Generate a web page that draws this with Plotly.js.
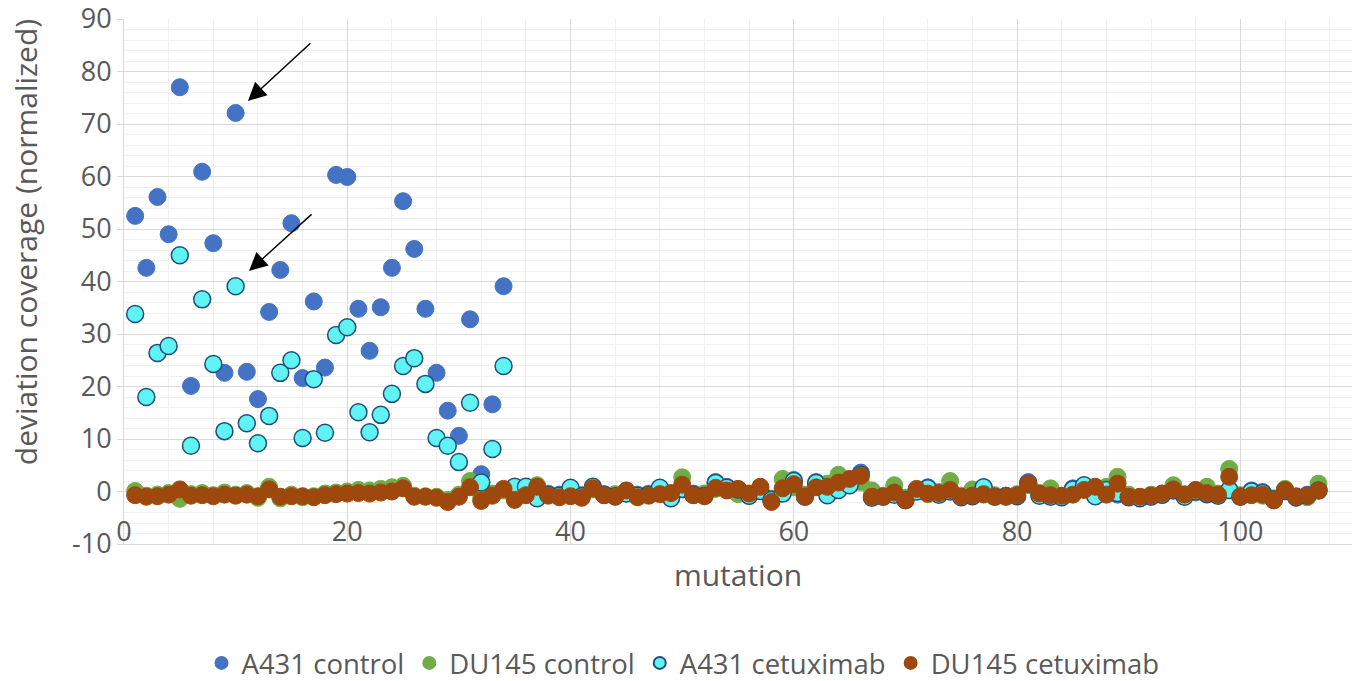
<!DOCTYPE html>
<html>
<head>
<meta charset="utf-8">
<script src="https://cdn.plot.ly/plotly-3.0.1.min.js"></script>
<style>html,body{margin:0;padding:0;background:#fff;}#chart{width:1366px;height:681px;}</style>
</head>
<body>
<div id="chart"></div>
<script>
// mutation index 1..107
const mutation = Array.from({length: 107}, (_, i) => i + 1);

const seriesNames = ["A431 control", "DU145 control", "A431 cetuximab", "DU145 cetuximab"];

const a431Control = [
  52.5, 42.6, 56.1, 49.0, 77.0, 20.1, 60.9, 47.3, 22.6, 72.1,
  22.8, 17.6, 34.2, 42.2, 51.1, 21.6, 36.2, 23.6, 60.3, 59.9,
  34.8, 26.8, 35.1, 42.6, 55.3, 46.2, 34.8, 22.6, 15.4, 10.6,
  32.8, 3.3, 16.6, 39.1, 0.5, 0.6, -0.8, -0.5, -0.6, 0.3,
  -0.7, 0.6, -0.5, -0.8, -0.3, -0.6, -0.7, 0.3, -1.2, 0.8,
  -0.4, -0.6, 1.8, 0.9, 0.2, -0.6, 0.3, -1.4, -0.2, 2.2,
  -0.8, 1.8, 0.0, 0.6, 1.5, 3.6, -1.0, -0.9, -0.4, -1.4,
  0.2, 0.8, -0.4, 0.2, -1.0, -0.7, 0.6, -0.9, -0.8, -0.7,
  1.8, -0.6, -0.8, -1.0, 0.6, 1.0, -0.7, 0.5, -0.6, -1.0,
  -1.2, -0.9, -0.4, 0.4, -0.8, 0.2, -0.3, -0.6, 0.4, -0.8,
  0.2, -0.1, -1.4, 0.3, -0.9, -0.6, 0.4
];

const du145Control = [
  0.1, -0.8, -0.6, -0.3, -1.4, -0.5, -0.3, -0.7, -0.2, -0.6,
  -0.3, -1.2, 0.9, -1.3, -0.6, -1.1, -0.9, -0.4, -0.2, 0.0,
  0.3, 0.2, 0.5, 0.8, 1.1, -0.8, -0.9, -1.0, -1.6, -0.6,
  2.0, -1.2, -0.4, 0.2, -1.2, -0.5, 1.2, -0.4, -0.9, 0.2,
  -1.0, 0.4, -0.7, -0.5, 0.1, -0.9, -0.4, 0.6, -0.8, 2.7,
  -0.7, -0.4, 0.5, 0.3, -0.5, -0.9, 0.8, -1.5, 2.4, 0.8,
  -0.6, 1.2, 1.5, 3.2, 2.0, 1.8, 0.2, -0.8, 1.2, -1.2,
  0.3, -0.5, -0.1, 2.0, -0.8, 0.4, -0.6, -0.7, -0.8, -0.5,
  1.2, -0.3, 0.6, -0.9, -0.4, 0.5, -0.8, 0.9, 2.8, -0.6,
  -1.2, -0.6, -0.7, 1.2, -0.5, -0.2, 0.9, -0.4, 4.3, -0.7,
  -0.5, -0.8, -1.3, 0.5, -1.2, -1.1, 1.5
];

const a431Cetuximab = [
  33.8, 18.0, 26.4, 27.7, 45.0, 8.7, 36.6, 24.3, 11.5, 39.1,
  13.0, 9.2, 14.4, 22.6, 25.0, 10.2, 21.4, 11.2, 29.8, 31.3,
  15.1, 11.3, 14.6, 18.6, 23.9, 25.4, 20.5, 10.2, 8.7, 5.6,
  16.9, 1.7, 8.1, 23.9, 0.9, 0.9, -1.3, -0.6, -0.8, 0.7,
  -0.9, 0.9, -0.6, -0.9, -0.4, -0.8, -0.6, 0.7, -1.3, 0.5,
  -0.6, -0.8, 1.6, 0.7, 0.4, -0.8, 0.1, -1.6, -0.4, 2.0,
  -1.0, 1.6, -0.7, 0.3, 1.2, 3.2, -1.2, -1.0, -0.6, -1.6,
  0.0, 0.6, -0.6, 0.0, -1.1, -0.9, 0.8, -1.0, -0.9, -0.9,
  1.5, -0.8, -1.0, -1.1, 0.4, 1.2, -0.9, 0.3, -0.3, -1.1,
  -1.3, -1.0, -0.6, 0.2, -1.0, 0.0, -0.5, -0.8, 0.3, -1.0,
  0.0, -0.3, -1.5, 0.1, -1.1, -0.8, 0.2
];

const du145Cetuximab = [
  -0.7, -1.0, -0.9, -0.6, 0.4, -0.8, -0.7, -0.9, -0.6, -0.8,
  -0.6, -0.9, 0.4, -1.0, -0.9, -0.9, -1.1, -0.7, -0.5, -0.4,
  -0.3, -0.4, -0.2, 0.0, 0.6, -1.0, -1.0, -1.2, -2.0, -1.0,
  0.8, -1.8, -0.8, 0.5, -1.6, -0.7, 0.9, -0.8, -1.1, -0.9,
  -1.2, 0.6, -0.7, -1.0, 0.2, -1.1, -0.8, -0.5, -0.3, 1.3,
  -0.7, -0.9, 0.7, 0.2, 0.5, -0.4, 0.9, -2.0, 0.6, 1.4,
  -1.0, 0.8, 0.9, 1.7, 2.4, 3.0, -1.0, -1.0, -0.2, -1.7,
  0.5, -0.4, -0.3, 0.3, -1.0, -0.8, -0.5, -1.0, -1.0, -0.7,
  1.5, -0.4, -0.7, -0.8, -0.6, 0.3, 0.9, -0.6, 1.5, -1.0,
  -1.0, -0.8, -0.4, 0.4, -0.6, 0.3, -0.3, -0.6, 2.8, -1.0,
  -0.7, -0.6, -1.7, 0.3, -1.0, -0.8, 0.2
];

const xTickVals = [0, 20, 40, 60, 80, 100];
const yTickVals = [-10, 0, 10, 20, 30, 40, 50, 60, 70, 80, 90];
const xTitle = "mutation";
const yTitle = "deviation coverage (normalized)";

const FONT = "'Open Sans', 'Noto Sans', sans-serif";
const GREY = "#595959";

function trace(name, y, fill, line, lw) {
  return {
    type: "scatter", mode: "markers", name: name,
    x: mutation, y: y,
    marker: {size: 17, color: fill, line: {color: line, width: lw}},
    cliponaxis: false
  };
}

const data = [
  trace(seriesNames[0], a431Control, "#4472C4", "#4472C4", 1),
  trace(seriesNames[1], du145Control, "#70AD47", "#70AD47", 1),
  trace(seriesNames[2], a431Cetuximab, "#5FF3F3", "#1F4E79", 1.5),
  trace(seriesNames[3], du145Cetuximab, "#9E480E", "#9E480E", 1)
];

const layout = {
  width: 1366, height: 681,
  margin: {l: 124, r: 14, t: 19, b: 137},
  paper_bgcolor: "#fff", plot_bgcolor: "#fff",
  font: {family: FONT, color: GREY, size: 28},
  showlegend: true,
  legend: {
    orientation: "h", x: 0.5, xref: "container", xanchor: "center",
    y: 0.0264, yref: "container", yanchor: "middle",
    font: {family: FONT, size: 27.5, color: GREY},
    traceorder: "normal", itemsizing: "constant"
  },
  xaxis: {
    range: [0, 110],
    tickvals: xTickVals, ticktext: xTickVals.map(String),
    showgrid: true, gridcolor: "#D9D9D9", gridwidth: 1,
    minor: {dtick: 4, tick0: 0, showgrid: true, gridcolor: "#F0F0F0", gridwidth: 1},
    zeroline: false, showline: true, linecolor: "#D9D9D9",
    ticks: "", ticklabelposition: "inside", ticklabeloverflow: "allow",
    tickfont: {family: FONT, size: 27, color: GREY},
    title: {text: xTitle, font: {family: FONT, size: 30, color: GREY}, standoff: 16},
    automargin: false
  },
  yaxis: {
    range: [-10, 90],
    tickvals: yTickVals, ticktext: yTickVals.map(String),
    showgrid: true, gridcolor: "#D9D9D9", gridwidth: 1,
    minor: {dtick: 2, tick0: 0, showgrid: true, gridcolor: "#F0F0F0", gridwidth: 1},
    zeroline: false, showline: true, linecolor: "#D9D9D9",
    ticks: "outside", ticklen: 6, tickcolor: "#D9D9D9", ticklabeloverflow: "allow",
    tickfont: {family: FONT, size: 27, color: GREY},
    automargin: false
  },
  annotations: [
    {text: yTitle, xref: "paper", yref: "paper", x: -0.0806, y: 0.575,
     xanchor: "center", yanchor: "middle", textangle: -90, showarrow: false,
     font: {family: FONT, size: 30, color: GREY}},
    {x: 11.1, y: 74.4, xref: "x", yref: "y", text: "", showarrow: true,
     ax: 64, ay: -59, arrowhead: 2, arrowsize: 2.6, arrowwidth: 1.4, arrowcolor: "#000", standoff: 0},
    {x: 11.2, y: 42.0, xref: "x", yref: "y", text: "", showarrow: true,
     ax: 64, ay: -58, arrowhead: 2, arrowsize: 2.6, arrowwidth: 1.4, arrowcolor: "#000", standoff: 0}
  ]
};

Plotly.newPlot("chart", data, layout, {displayModeBar: false, responsive: false});
</script>
</body>
</html>
